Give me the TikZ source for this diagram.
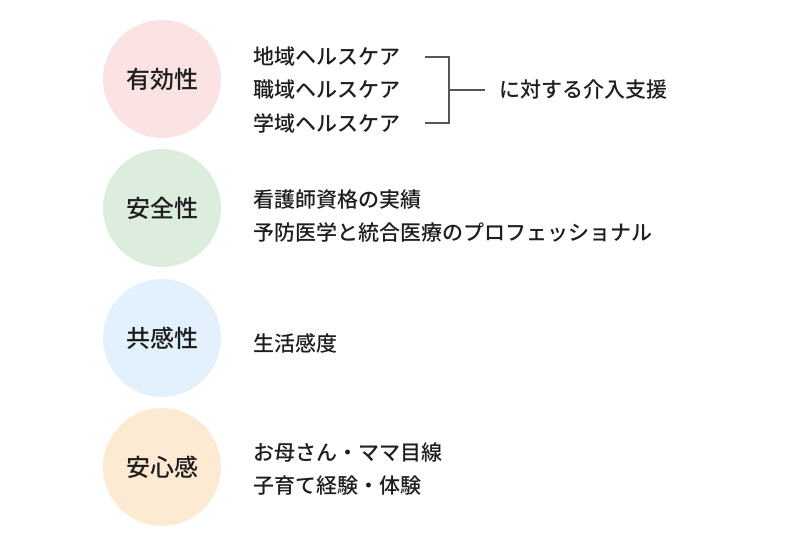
\documentclass[tikz,border=0pt]{standalone}
\usepackage{fontspec}
\setmainfont{Noto Sans CJK JP}[UprightFont=* Medium]
\usetikzlibrary{positioning}
\definecolor{effect}{RGB}{251,227,227}
\definecolor{safety}{RGB}{221,237,221}
\definecolor{empathy}{RGB}{227,241,252}
\definecolor{relief}{RGB}{253,234,211}
\definecolor{ink}{RGB}{30,30,30}
\definecolor{bracket}{RGB}{85,85,85}
\tikzset{%
  aspect/.style={circle, minimum size=118pt, inner sep=0pt, text=ink, font=\fontsize{24}{24}\selectfont},% circle label
  item/.style={anchor=west, inner sep=0pt, text=ink, font=\fontsize{21}{21}\selectfont},% text at right
  bracket/.style={draw=bracket, line width=1.3pt}% bracket lines
}

\begin{document}
\begin{tikzpicture}[x=1pt, y=-1pt]
\useasboundingbox (0,0) rectangle (801,534);

\node[aspect, fill=effect] (effect) at (162, 79) {有効性};
\node[aspect, fill=safety] (safety) at (162, 208) {安全性};
\node[aspect, fill=empathy] (empathy) at (162, 338) {共感性};
\node[aspect, fill=relief] (relief) at (162, 467) {安心感};

\node[item] (chiiki) at (253, 57) {地域ヘルスケア};
\node[item] (shokuiki) at (253, 90) {職域ヘルスケア};
\node[item] (gakuiki) at (253, 123) {学域ヘルスケア};
\node[item] (shien) at (499, 90) {に対する介入支援};

\node[item] (jisseki) at (253, 200) {看護師資格の実績};
\node[item] (pro) at (253, 233) {予防医学と統合医療のプロフェッショナル};

\node[item] (kando) at (253, 343) {生活感度};

\node[item] (mama) at (253, 453) {お母さん・ママ目線};
\node[item] (kosodate) at (253, 486) {子育て経験・体験};

% bracket
\coordinate (top) at (425, 57);
\coordinate (bottom) at (425, 123);
\coordinate (corner) at (449, 90);
\draw[bracket] (top) -| (corner |- bottom) -- (bottom);
\draw[bracket] (corner) -- (shien.west -| 485,0);
\end{tikzpicture}
\end{document}
